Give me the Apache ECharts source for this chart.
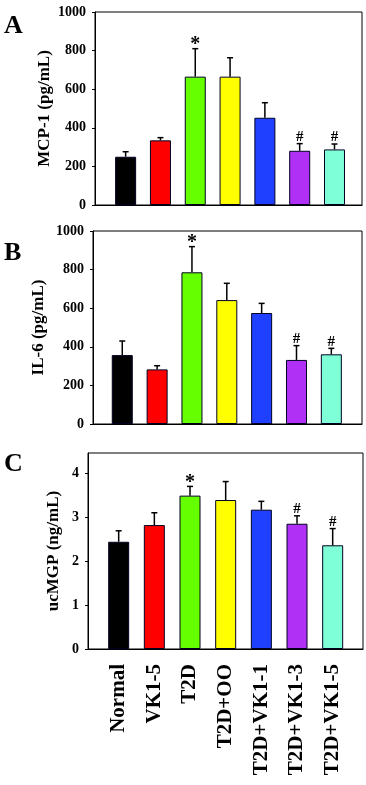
<!DOCTYPE html>
<html>
<head>
<meta charset="utf-8">
<script src="https://cdn.jsdelivr.net/npm/echarts@6/dist/echarts.min.js"></script>
<style>
  html, body { margin: 0; padding: 0; background: #fff; }
  #main { width: 366px; height: 785px; }
</style>
</head>
<body>
<div id="main"></div>
<script>
// groups (x axis)
const categories = ['Normal', 'VK1-5', 'T2D', 'T2D+OO', 'T2D+VK1-1', 'T2D+VK1-3', 'T2D+VK1-5']
const barColors = ['#000000', '#ff0000', '#66ff00', '#ffff00', '#2040ff', '#b030f5', '#7fffd8']

// A: MCP-1 (pg/mL)
const mcp1Mean = [250, 335, 665, 665, 452, 281, 288]
const mcp1Err = [26, 14, 145, 98, 78, 37, 28]
const mcp1Sig = ['', '', '*', '', '', '#', '#']

// B: IL-6 (pg/mL)
const il6Mean = [357, 283, 786, 642, 575, 332, 361]
const il6Err = [73, 19, 133, 87, 50, 74, 31]
const il6Sig = ['', '', '*', '', '', '#', '#']

// C: ucMGP (ng/mL)
const ucmgpMean = [2.44, 2.82, 3.49, 3.39, 3.17, 2.85, 2.36]
const ucmgpErr = [0.25, 0.28, 0.21, 0.42, 0.19, 0.18, 0.38]
const ucmgpSig = ['', '', '*', '', '', '#', '#']

const serif = '"Liberation Serif", "DejaVu Serif", serif'

let myChart = echarts.init(document.getElementById('main'))

// 柱子
function barSeries(idx, mean) {
  return {
    type: 'bar',
    xAxisIndex: idx,
    yAxisIndex: idx,
    barWidth: 21,
    data: mean.map((v, i) => ({
      value: [i, v],
      itemStyle: { color: barColors[i] }
    })),
    itemStyle: { borderColor: '#000022', borderWidth: 1 },
    silent: true
  }
}

// 误差线 + 显著性标记
function errSeries(idx, mean, err, sig) {
  return {
    type: 'custom',
    xAxisIndex: idx,
    yAxisIndex: idx,
    clip: false,
    silent: true,
    z: 5,
    data: mean.map((v, i) => [i, v, err[i]]),
    renderItem: function(params, api) {
      let x = api.value(0)
      let y = api.value(1)
      let e = api.value(2)
      let base = api.coord([x, y])
      let top = api.coord([x, y + e])
      let children = [
        {
          type: 'line',
          shape: { x1: base[0], y1: base[1], x2: top[0], y2: top[1] },
          style: { stroke: '#000', lineWidth: 1.5 }
        },
        {
          type: 'line',
          shape: { x1: top[0] - 3, y1: top[1], x2: top[0] + 3, y2: top[1] },
          style: { stroke: '#000', lineWidth: 1.5 }
        }
      ]
      let s = sig[params.dataIndex]
      if (s) {
        let star = s === '*'
        children.push({
          type: 'text',
          style: {
            text: s,
            x: top[0],
            y: top[1] + (star ? 6 : 1),
            align: 'center',
            verticalAlign: 'bottom',
            font: 'bold ' + (star ? 20 : 15) + 'px ' + serif,
            fill: '#000'
          }
        })
      }
      return { type: 'group', children: children }
    }
  }
}

function yAxis(idx, name, max, interval, gap) {
  return {
    type: 'value',
    gridIndex: idx,
    min: 0,
    max: max,
    interval: interval,
    name: name,
    nameLocation: 'middle',
    nameRotate: 90,
    nameGap: gap,
    nameMoveOverlap: false,
    nameTextStyle: { fontFamily: serif, fontWeight: 'bold', fontSize: 17, color: '#000' },
    axisLine: { show: true, onZero: false, lineStyle: { color: '#000', width: 1 } },
    axisTick: { show: true, length: 3, lineStyle: { color: '#000' } },
    axisLabel: {
      fontFamily: serif,
      fontWeight: 'bold',
      fontSize: 14,
      color: '#000',
      margin: 9,
      showMaxLabel: max % interval === 0,
      formatter: v => String(Math.round(v * 100) / 100)
    },
    splitLine: { show: false }
  }
}

function xAxis(idx, min, max, showLabel) {
  return {
    type: 'value',
    gridIndex: idx,
    min: min,
    max: max,
    axisLine: { show: true, onZero: false, lineStyle: { color: '#000', width: 1 } },
    axisTick: { show: false },
    splitLine: { show: false },
    axisLabel: {
      show: showLabel,
      customValues: [0, 1, 2, 3, 4, 5, 6],
      formatter: v => categories[Math.round(v)] || '',
      rotate: 90,
      margin: 15,
      fontFamily: serif,
      fontWeight: 'bold',
      fontSize: 21,
      color: '#000'
    }
  }
}

function letter(t, top) {
  return {
    type: 'text',
    left: 4,
    top: top,
    style: { text: t, font: 'bold 26px ' + serif, fill: '#000' }
  }
}

myChart.setOption({
  animation: false,
  grid: [
    { left: 95, top: 12, right: 4, height: 193, show: true, borderColor: '#000', borderWidth: 1 },
    { left: 93, top: 231, right: 4, height: 193, show: true, borderColor: '#000', borderWidth: 1 },
    { left: 88, top: 453, right: 3, height: 196, show: true, borderColor: '#000', borderWidth: 1 }
  ],
  xAxis: [
    xAxis(0, -0.88, 6.79, false),
    xAxis(1, -0.84, 6.88, false),
    xAxis(2, -0.86, 6.85, true)
  ],
  yAxis: [
    yAxis(0, 'MCP-1 (pg/mL)', 1000, 200, 42),
    yAxis(1, 'IL-6 (pg/mL)', 1000, 200, 46),
    yAxis(2, 'ucMGP (ng/mL)', 4.46, 1, 26)
  ],
  graphic: [letter('A', 13), letter('B', 240), letter('C', 451)],
  series: [
    barSeries(0, mcp1Mean),
    errSeries(0, mcp1Mean, mcp1Err, mcp1Sig),
    barSeries(1, il6Mean),
    errSeries(1, il6Mean, il6Err, il6Sig),
    barSeries(2, ucmgpMean),
    errSeries(2, ucmgpMean, ucmgpErr, ucmgpSig)
  ]
})
</script>
</body>
</html>
